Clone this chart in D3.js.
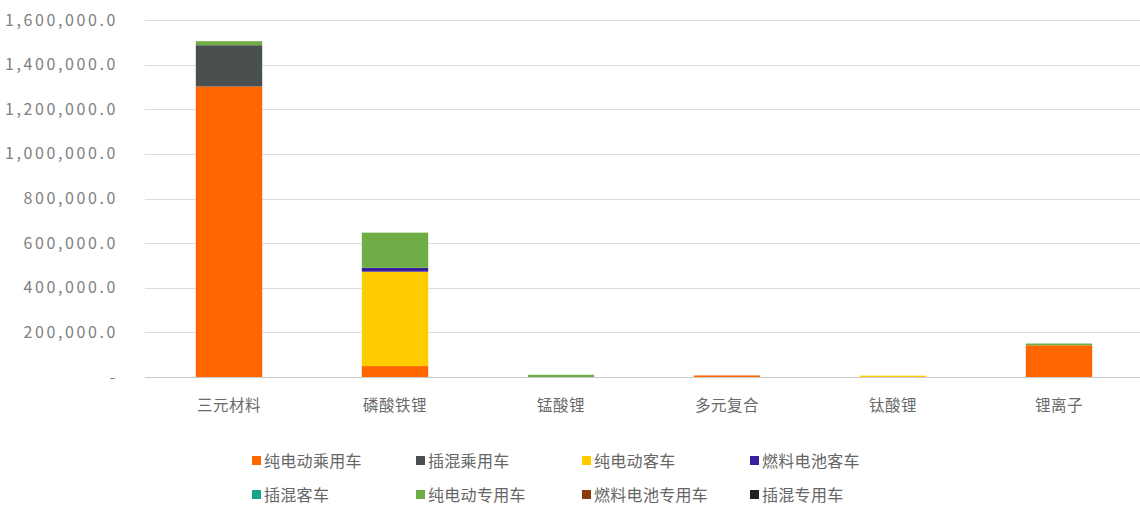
<!DOCTYPE html>
<html><head><meta charset="utf-8">
<script src="https://cdn.jsdelivr.net/npm/d3@7"></script>
<style>
html,body{margin:0;padding:0;background:#fff;}
svg{display:block;}
text{font-family:"Noto Sans CJK SC","Noto Sans",sans-serif;}
</style></head>
<body>
<script>
const categories = ["三元材料","磷酸铁锂","锰酸锂","多元复合","钛酸锂","锂离子"];
const seriesNames = ["纯电动乘用车","插混乘用车","纯电动客车","燃料电池客车","插混客车","纯电动专用车","燃料电池专用车","插混专用车"];
const seriesColors = ["#ff6600","#4a4f50","#ffcc00","#3b1fa3","#17a28a","#70ad47","#8b3a10","#222222"];
const vEVPassenger   = [1302000, 49000, 0, 7000, 0, 142000];
const vPHEVPassenger = [ 185000, 0, 0, 0, 0, 0];
const vEVBus         = [      0, 423000, 0, 0, 6000, 0];
const vFCBus         = [      0, 17000, 0, 0, 0, 0];
const vPHEVBus       = [      0, 0, 0, 0, 0, 0];
const vEVSpecial     = [  18000, 158000, 10000, 0, 0, 8000];
const vFCSpecial     = [      0, 0, 0, 0, 0, 0];
const vPHEVSpecial   = [      0, 0, 0, 0, 0, 0];
const yTicks = [0,200000,400000,600000,800000,1000000,1200000,1400000,1600000];

const seriesValues = [vEVPassenger,vPHEVPassenger,vEVBus,vFCBus,vPHEVBus,vEVSpecial,vFCSpecial,vPHEVSpecial];
const W=1140,H=513;
const svg=d3.select("body").append("svg").attr("width",W).attr("height",H);
const x=d3.scaleBand().domain(categories).range([146,1142]).paddingInner(0.6).paddingOuter(0.3);
const y=d3.scaleLinear().domain([0,1600000]).range([377,20]);

// gridlines
svg.append("g").selectAll("line").data(yTicks).join("line")
  .attr("x1",145).attr("x2",W).attr("y1",d=>Math.round(y(d))+0.5).attr("y2",d=>Math.round(y(d))+0.5)
  .attr("stroke",d=>d===0?"#c8c8c8":"#dedede").attr("stroke-width",1);

// y labels
const fmt=d=> d===0?"-":d3.format(",.1f")(d);
svg.append("g").selectAll("text").data(yTicks).join("text")
  .attr("x",118).attr("y",d=>y(d)).attr("dy","0.35em").attr("text-anchor","end")
  .attr("font-size",16).attr("letter-spacing",2.6).attr("fill","#808080").text(fmt);

// stacks
const rows=categories.map((c,i)=>{const o={cat:c};seriesNames.forEach((s,j)=>o[s]=seriesValues[j][i]);return o;});
const stack=d3.stack().keys(seriesNames)(rows);
svg.append("g").selectAll("g").data(stack).join("g").attr("fill",(d,i)=>seriesColors[i])
  .selectAll("rect").data(d=>d).join("rect")
  .attr("x",d=>x(d.data.cat)).attr("width",x.bandwidth())
  .attr("y",d=>y(d[1])).attr("height",d=>Math.max(0,y(d[0])-y(d[1])));

// x labels
svg.append("g").selectAll("text").data(categories).join("text")
  .attr("x",d=>x(d)+x.bandwidth()/2).attr("y",411).attr("text-anchor","middle")
  .attr("font-size",15.5).attr("letter-spacing",0.5).attr("fill","#6a6a6a").text(d=>d);

// legend
const legX=[252,416,582,750];
const legY=[461,495];
const lg=svg.append("g").selectAll("g").data(seriesNames).join("g")
  .attr("transform",(d,i)=>`translate(${legX[i%4]},${legY[Math.floor(i/4)]})`);
lg.append("rect").attr("x",0).attr("y",-5).attr("width",9).attr("height",9).attr("fill",(d,i)=>seriesColors[i]);
lg.append("text").attr("x",12).attr("y",0).attr("dy","0.35em").attr("font-size",16).attr("letter-spacing",0.3).attr("fill","#666").text(d=>d);
</script>
</body></html>
